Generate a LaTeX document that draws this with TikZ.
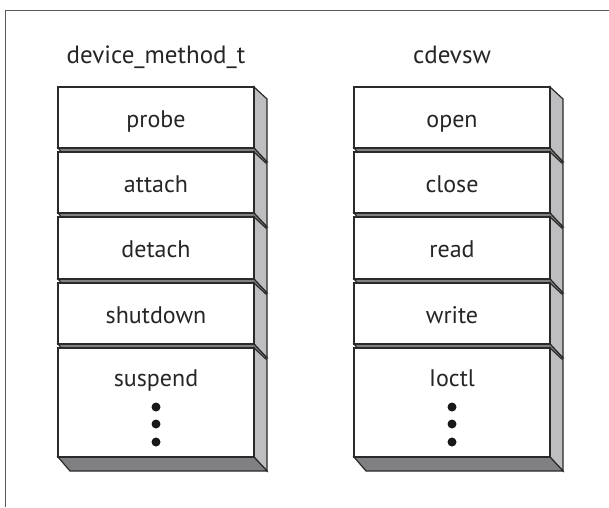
\documentclass[tikz,border=0pt]{standalone}
\usepackage{fontspec}
\setmainfont{PT Sans}
\definecolor{sidegray}{HTML}{BEBEC0}
\definecolor{botgray}{HTML}{808083}
\definecolor{edge}{HTML}{2A2A2A}
\definecolor{framegray}{HTML}{5A5A5A}
\tikzset{
  face/.style={draw=edge,line width=1.2pt,line join=miter},
  lbl/.style={font=\fontsize{24}{28}\selectfont,text=black!85,inner sep=0pt,anchor=base},
  ttl/.style={font=\fontsize{25}{29}\selectfont,text=black!85,inner sep=0pt,anchor=base},
  dotn/.style={circle,fill=black!90,inner sep=0pt,minimum size=9pt}
}
\begin{document}
\begin{tikzpicture}[x=1pt,y=-1pt]
\useasboundingbox (0,0) rectangle (609,507);
% frame
\draw[framegray,line width=1pt] (5,507) -- (5,10) -- (609,10);
% boxes
\foreach \x in {58,354}{
  \foreach \t/\b in {87/148,152/213,217/279,283/344,348/457}{
    \filldraw[face,fill=sidegray] ({\x+196},\t) -- ({\x+209},{\t+12}) -- ({\x+209},{\b+14}) -- ({\x+196},\b) -- cycle;
    \filldraw[face,fill=botgray] (\x,\b) -- ({\x+12},{\b+14}) -- ({\x+209},{\b+14}) -- ({\x+196},\b) -- cycle;
    \filldraw[face,fill=white] (\x,\t) rectangle ({\x+196},\b);
  }
}
% titles
\node[ttl] (tl) at (156,63) {device\_method\_t};
\node[ttl] (tr) at (452,63) {cdevsw};
% left labels
\node[lbl] (l1) at (156,127) {probe};
\node[lbl] (l2) at (156,192) {attach};
\node[lbl] (l3) at (156,257) {detach};
\node[lbl] (l4) at (156,323) {shutdown};
\node[lbl] (l5) at (156,386) {suspend};
% right labels
\node[lbl] (r1) at (452,127) {open};
\node[lbl] (r2) at (452,192) {close};
\node[lbl] (r3) at (452,257) {read};
\node[lbl] (r4) at (452,323) {write};
\node[lbl] (r5) at (452,386) {Ioctl};
% dots
\foreach \cx/\p in {156/ld,452/rd}{
  \node[dotn] (\p1) at (\cx,407) {};
  \node[dotn] (\p2) at (\cx,424) {};
  \node[dotn] (\p3) at (\cx,442) {};
}
\end{tikzpicture}
\end{document}
